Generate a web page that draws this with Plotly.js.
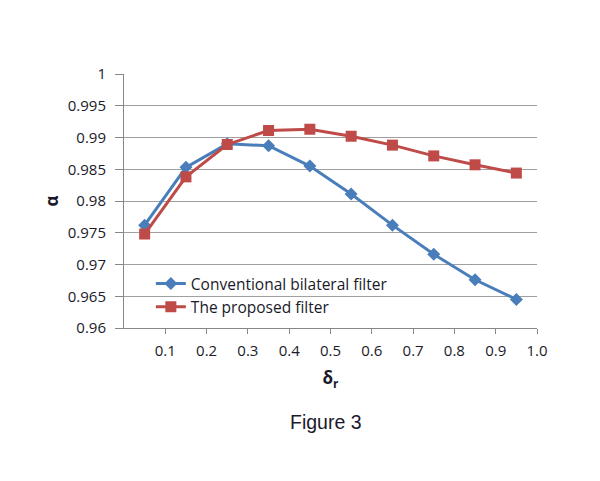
<!DOCTYPE html>
<html>
<head>
<meta charset="utf-8">
<script src="https://cdn.plot.ly/plotly-3.0.1.min.js"></script>
<style>html,body{margin:0;padding:0;background:#fff;}#chart{width:600px;height:481px;}</style>
</head>
<body>
<div id="chart"></div>
<script>
const deltaR = [0.05, 0.15, 0.25, 0.35, 0.45, 0.55, 0.65, 0.75, 0.85, 0.95];
const conventional = [0.9762, 0.9853, 0.9890, 0.9887, 0.9855, 0.9811, 0.9762, 0.9716, 0.9676, 0.9645];
const proposed = [0.9748, 0.9838, 0.9889, 0.9911, 0.9913, 0.9902, 0.9888, 0.9871, 0.9857, 0.9844];
const xTickVals = [0.1, 0.2, 0.3, 0.4, 0.5, 0.6, 0.7, 0.8, 0.9, 1.0];
const xTickText = ["0.1", "0.2", "0.3", "0.4", "0.5", "0.6", "0.7", "0.8", "0.9", "1.0"];
const yTickVals = [0.96, 0.965, 0.97, 0.975, 0.98, 0.985, 0.99, 0.995, 1];
const yTickText = ["0.96", "0.965", "0.97", "0.975", "0.98", "0.985", "0.99", "0.995", "1"];

const font = "Open Sans, Noto Sans, sans-serif";
const txt = "#1a1a2a";
const data = [
  {x: deltaR, y: conventional, name: "Conventional bilateral filter", type: "scatter", mode: "lines+markers",
   line: {color: "#4A7EBB", width: 3}, marker: {symbol: "diamond", size: 10, color: "#4A7EBB"}},
  {x: deltaR, y: proposed, name: "The proposed filter", type: "scatter", mode: "lines+markers",
   line: {color: "#BE4B48", width: 3}, marker: {symbol: "square", size: 11, color: "#BE4B48"}}
];
const layout = {
  width: 600, height: 481,
  margin: {l: 124, r: 63, t: 74, b: 153},
  paper_bgcolor: "#fff", plot_bgcolor: "#fff",
  font: {family: font, size: 15, color: txt},
  showlegend: true,
  legend: {x: 0.065, y: 0.24, xanchor: "left", yanchor: "top", bgcolor: "rgba(0,0,0,0)",
           font: {family: font, size: 15.5, color: txt}, tracegroupgap: 0},
  xaxis: {range: [0, 1], tickvals: xTickVals, ticktext: xTickText, showgrid: false, zeroline: false,
          showline: true, linecolor: "#878787", linewidth: 1, ticks: "outside", ticklen: 5, tickcolor: "#878787",
          ticklabelstandoff: 4,
          tickfont: {family: font, size: 15, color: txt},
          title: {text: "<b>δ<sub>r</sub></b>", font: {family: font, size: 17, color: txt}, standoff: 13}},
  yaxis: {range: [0.96, 1], tickvals: yTickVals, ticktext: yTickText, showgrid: true, gridcolor: "#A0A0A0", gridwidth: 1,
          zeroline: false, showline: true, linecolor: "#878787", linewidth: 1, ticks: "outside", ticklen: 8, tickcolor: "#878787",
          ticklabelstandoff: 6,
          tickfont: {family: font, size: 15, color: txt},
          title: {text: "<b>α</b>", font: {family: font, size: 17, color: txt}, standoff: 4}},
  annotations: [
    {text: "Figure 3", xref: "paper", yref: "paper", x: 0.49, y: -0.372, xanchor: "center", yanchor: "middle",
     showarrow: false, font: {family: "Liberation Sans, Arial, sans-serif", size: 19.5, color: txt}}
  ]
};
Plotly.newPlot("chart", data, layout, {displayModeBar: false, staticPlot: true});
</script>
</body>
</html>
